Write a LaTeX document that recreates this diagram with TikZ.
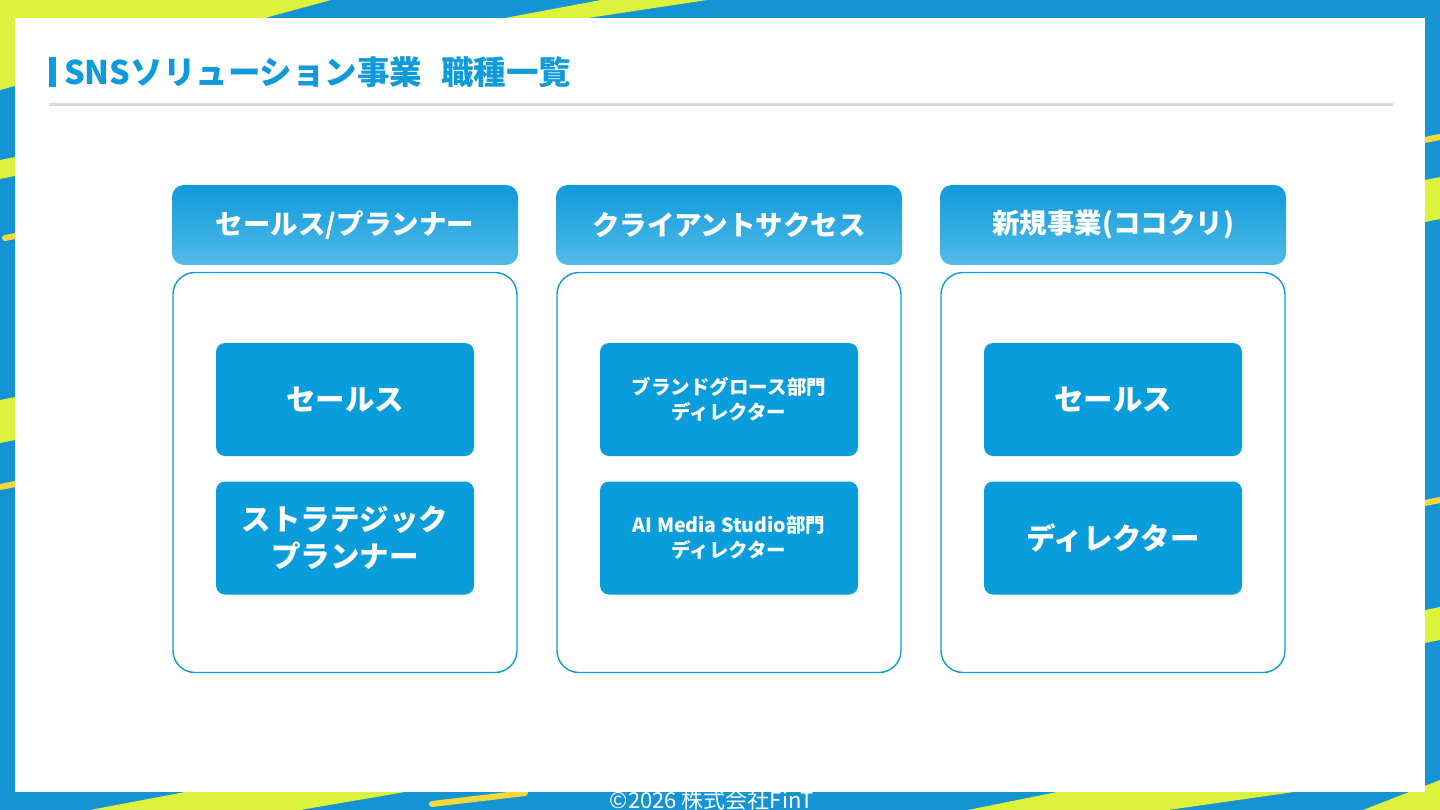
\documentclass[tikz,border=0pt]{standalone}
\usepackage{fontspec}
\setmainfont{Noto Sans CJK JP}
\definecolor{skyblue}{HTML}{1594D4}
\definecolor{lime}{HTML}{DDF23C}
\definecolor{gold}{HTML}{F4D83C}
\definecolor{snsblue}{HTML}{0E9ADB}
\definecolor{boxblue}{HTML}{0A9DDC}
\definecolor{headlight}{HTML}{52BAE8}
\definecolor{rulegray}{HTML}{DADADA}

\begin{document}
\begin{tikzpicture}[x=1pt, y=-1pt, inner sep=0pt,
  head/.style={rounded corners=12pt, top color=snsblue, bottom color=headlight, minimum width=346pt, minimum height=80pt, text=white, font=\bfseries\fontsize{27.5}{32}\selectfont},
  colbox/.style={rounded corners=22pt, draw=snsblue, line width=1.4pt, fill=white, minimum width=344pt, minimum height=400pt},
  role/.style={rounded corners=9pt, fill=boxblue, minimum width=258pt, minimum height=113pt, text=white, align=center, font=\bfseries\fontsize{29.5}{37}\selectfont},
  dept/.style={role, font=\bfseries\fontsize{19.5}{25}\selectfont},
  goldline/.style={gold, line width=6pt, line cap=round}]
\clip (0,0) rectangle (1440,810);
\fill[skyblue] (0,0) rectangle (1440,810);
\fill[lime] (0,0) -- (331,0) -- (0,90) -- cycle;
\fill[lime] (601,0) -- (707,0) -- (588,18) -- (505,18) -- cycle;
\fill[lime] (0,160) -- (15,157) -- (15,176) -- (0,179) -- cycle;
\fill[lime] (0,400) -- (15,397) -- (15,440) -- (0,443) -- cycle;
\fill[lime] (1425,180) -- (1440,177) -- (1440,219) -- (1425,222) -- cycle;
\fill[lime] (1425,610) -- (1440,607) -- (1440,640) -- (1425,643) -- cycle;
\fill[lime] (90,810) -- (185,792) -- (405,792) -- (300,810) -- cycle;
\fill[lime] (968,810) -- (1057,792) -- (1294,792) -- (1168,810) -- cycle;
\fill[lime] (1363,810) -- (1440,780) -- (1440,810) -- cycle;
\draw[goldline] (5,238) -- (15,236);
\draw[goldline] (0,487) -- (15,484);
\draw[goldline] (1425,140) -- (1440,137);
\draw[goldline] (1425,503) -- (1440,500);
\draw[goldline] (432,804) -- (525,793);
\fill[white] (15,18) rectangle (1425,792);

\fill[snsblue] (49,57) rectangle (56,87);
\node (title) at (64,72) [anchor=west, text=snsblue, font=\bfseries\fontsize{32.5}{38}\selectfont] {SNSソリューション事業\hspace{19pt}職種一覧};
\draw[rulegray, line width=3pt] (49,105) -- (1393,105);

\node (salesHead) at (345,225) [head] {セールス/プランナー};
\node (salesBox) at (345,472.5) [colbox] {};
\node (sales) at (345,399.5) [role] {セールス};
\node (planner) at (345,538) [role] {ストラテジック\\プランナー};

\node (csHead) at (729,225) [head] {クライアントサクセス};
\node (csBox) at (729,472.5) [colbox] {};
\node (brand) at (729,399.5) [dept] {ブランドグロース部門\\ディレクター};
\node (aims) at (729,538) [dept] {AI Media Studio部門\\ディレクター};

\node (newHead) at (1113,225) [head] {新規事業(ココクリ)};
\node (newBox) at (1113,472.5) [colbox] {};
\node (newSales) at (1113,399.5) [role] {セールス};
\node (newDir) at (1113,538) [role] {ディレクター};

\node (copy) at (712,800) [text=white, font=\fontsize{22}{26}\selectfont] {©2026 株式会社FinT};
\end{tikzpicture}
\end{document}
